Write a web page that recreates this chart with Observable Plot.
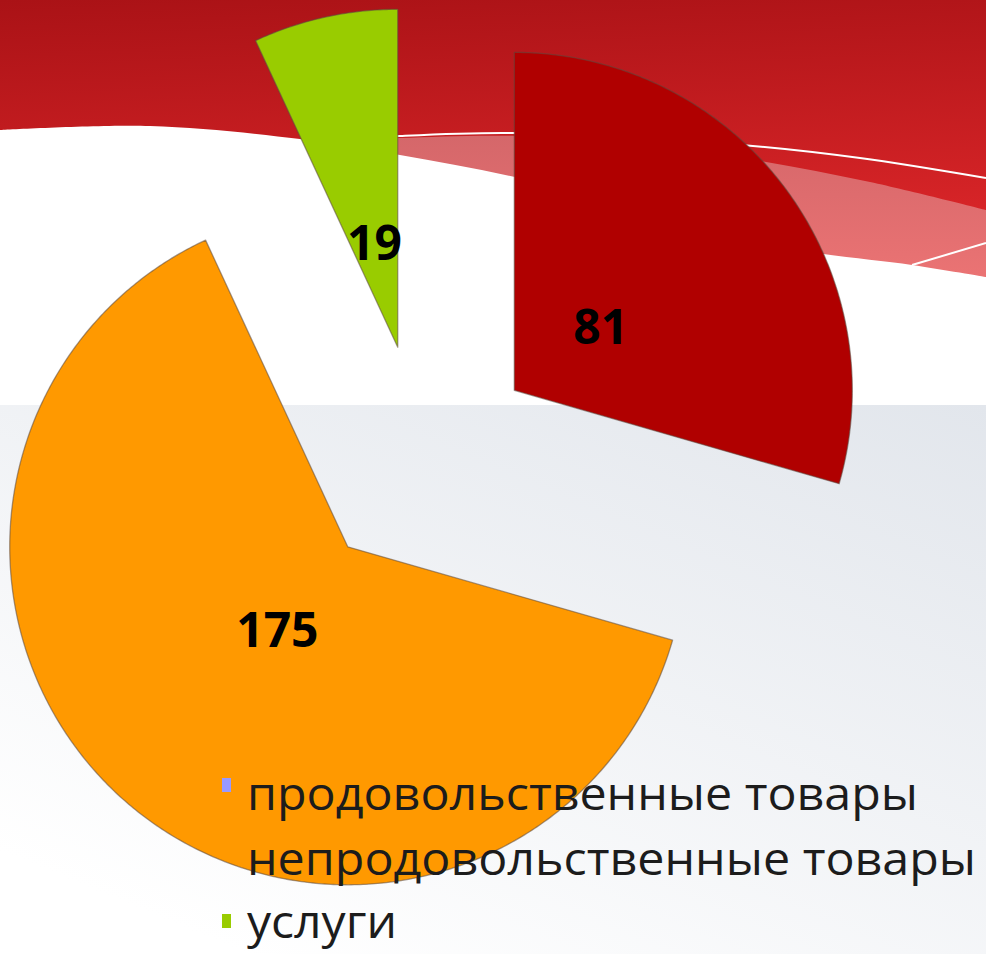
<!DOCTYPE html>
<html>
<head>
<meta charset="utf-8">
<script src="https://cdn.jsdelivr.net/npm/d3@7"></script>
<script src="https://cdn.jsdelivr.net/npm/@observablehq/plot@0.6"></script>
<style>
  html, body { margin: 0; padding: 0; background: #ffffff; }
  #stage { position: relative; width: 986px; height: 954px; overflow: hidden; }
  #bg, #chart, #legend { position: absolute; left: 0; top: 0; }
</style>
</head>
<body>
<div id="stage">
  <svg id="bg" width="986" height="954"></svg>
  <div id="chart"></div>
  <svg id="legend" width="986" height="954"></svg>
</div>
<script>
// ---- data ----
const categories = ["продовольственные товары", "непродовольственные товары", "услуги"];
const values = [81, 175, 19];
const sliceColors = ["#b00000", "#ff9900", "#99cc00"];
const legendColors = ["#9999ff", "none", "#99cc00"];

// ---- background decoration (slide template) ----
(function drawBackground() {
  const bg = d3.select("#bg");
  const defs = bg.append("defs");
  const gRed = defs.append("linearGradient").attr("id", "gRed").attr("x1", 0).attr("y1", 0).attr("x2", 0.15).attr("y2", 1);
  gRed.append("stop").attr("offset", "0%").attr("stop-color", "#aa1216");
  gRed.append("stop").attr("offset", "100%").attr("stop-color", "#e0282b");
  const gPink = defs.append("linearGradient").attr("id", "gPink").attr("x1", 0).attr("y1", 0).attr("x2", 0).attr("y2", 1);
  gPink.append("stop").attr("offset", "0%").attr("stop-color", "#d5676a");
  gPink.append("stop").attr("offset", "100%").attr("stop-color", "#ee7575");
  const gGray = defs.append("linearGradient").attr("id", "gGray").attr("x1", 1).attr("y1", 0).attr("x2", 0.25).attr("y2", 1);
  gGray.append("stop").attr("offset", "0%").attr("stop-color", "#e2e6ec");
  gGray.append("stop").attr("offset", "100%").attr("stop-color", "#ffffff");

  const curve = d3.line().curve(d3.curveCatmullRom.alpha(0.5));
  bg.append("rect").attr("x", 0).attr("y", 0).attr("width", 986).attr("height", 300).attr("fill", "url(#gRed)");

  const pinkTop = [[330, 141], [400, 138], [516, 136], [650, 146], [755, 160], [870, 182], [986, 210]];
  bg.append("path").attr("d", curve(pinkTop) + "L986,300L330,300Z").attr("fill", "url(#gPink)");

  const whiteTop = [[0, 130], [150, 126], [300, 139], [400, 155], [515, 177], [650, 212], [780, 247], [912, 265], [986, 277]];
  bg.append("path").attr("d", curve(whiteTop) + "L986,410L0,410Z").attr("fill", "#ffffff");

  const line1 = [[330, 141], [400, 136], [516, 133], [742, 145], [860, 158], [986, 178]];
  bg.append("path").attr("d", curve(line1)).attr("fill", "none").attr("stroke", "#ffffff").attr("stroke-width", 2);
  bg.append("path").attr("d", "M912,265L986,243").attr("fill", "none").attr("stroke", "#ffffff").attr("stroke-width", 2);

  bg.append("rect").attr("x", 0).attr("y", 405).attr("width", 986).attr("height", 549).attr("fill", "url(#gGray)");
})();

// ---- pie geometry from the data ----
const R = 338;            // pie radius, px
const CX = 422, CY = 459; // pie centre, px
const explode = 0.34;     // slice offset, in radii
const labelR = 0.32;      // label distance from slice apex, in radii

const arcs = d3.pie().sort(null).value(d => d)(values);
const slices = arcs.map((a, i) => {
  const mid = (a.startAngle + a.endAngle) / 2;
  return {
    key: categories[i],
    value: values[i],
    color: sliceColors[i],
    start: a.startAngle,
    end: a.endAngle,
    ox: explode * Math.sin(mid),
    oy: explode * Math.cos(mid),
    lx: explode * Math.sin(mid) + labelR * Math.sin(mid),
    ly: explode * Math.cos(mid) + labelR * Math.cos(mid)
  };
});

const outline = slices.flatMap(s => {
  const pts = [{key: s.key, color: s.color, x: s.ox, y: s.oy}];
  const n = Math.max(8, Math.ceil((s.end - s.start) / (Math.PI / 360)));
  for (let k = 0; k <= n; k++) {
    const t = s.start + (s.end - s.start) * k / n;
    pts.push({key: s.key, color: s.color, x: s.ox + Math.sin(t), y: s.oy + Math.cos(t)});
  }
  pts.push({key: s.key, color: s.color, x: s.ox, y: s.oy});
  return pts;
});

const chart = Plot.plot({
  width: 986,
  height: 954,
  margin: 0,
  style: {background: "transparent", overflow: "visible"},
  x: {type: "linear", domain: [-CX / R, (986 - CX) / R], range: [0, 986], axis: null},
  y: {type: "linear", domain: [-(954 - CY) / R, CY / R], range: [954, 0], axis: null},
  color: {type: "identity"},
  marks: [
    Plot.line(outline, {
      x: "x", y: "y", z: "key",
      fill: d => d.color,
      stroke: "#5c4a40", strokeOpacity: 0.55, strokeWidth: 1.3,
      curve: "linear-closed"
    }),
    Plot.text(slices, {
      x: "lx", y: "ly", text: d => String(d.value),
      fill: "#000000", fontSize: 48, fontWeight: "bold",
      fontFamily: "'Open Sans', 'DejaVu Sans', sans-serif",
      textAnchor: "middle", lineAnchor: "middle", dy: 3
    })
  ]
});
document.getElementById("chart").appendChild(chart);

// ---- legend ----
(function drawLegend() {
  const lg = d3.select("#legend");
  const baselines = [810, 875, 938];
  const markerTops = [778, 843, 914];
  const widths = [671, 729, 150];
  const items = lg.selectAll("g").data(categories).join("g");
  items.append("rect")
    .attr("x", 222).attr("y", (d, i) => markerTops[i])
    .attr("width", 9).attr("height", 14)
    .attr("fill", (d, i) => legendColors[i]);
  items.append("text")
    .attr("x", 247).attr("y", (d, i) => baselines[i])
    .attr("font-family", "'Open Sans', 'DejaVu Sans', sans-serif")
    .attr("font-size", 46)
    .attr("fill", "#1c1c1c")
    .attr("textLength", (d, i) => widths[i])
    .attr("lengthAdjust", "spacingAndGlyphs")
    .text(d => d);
})();
</script>
</body>
</html>
